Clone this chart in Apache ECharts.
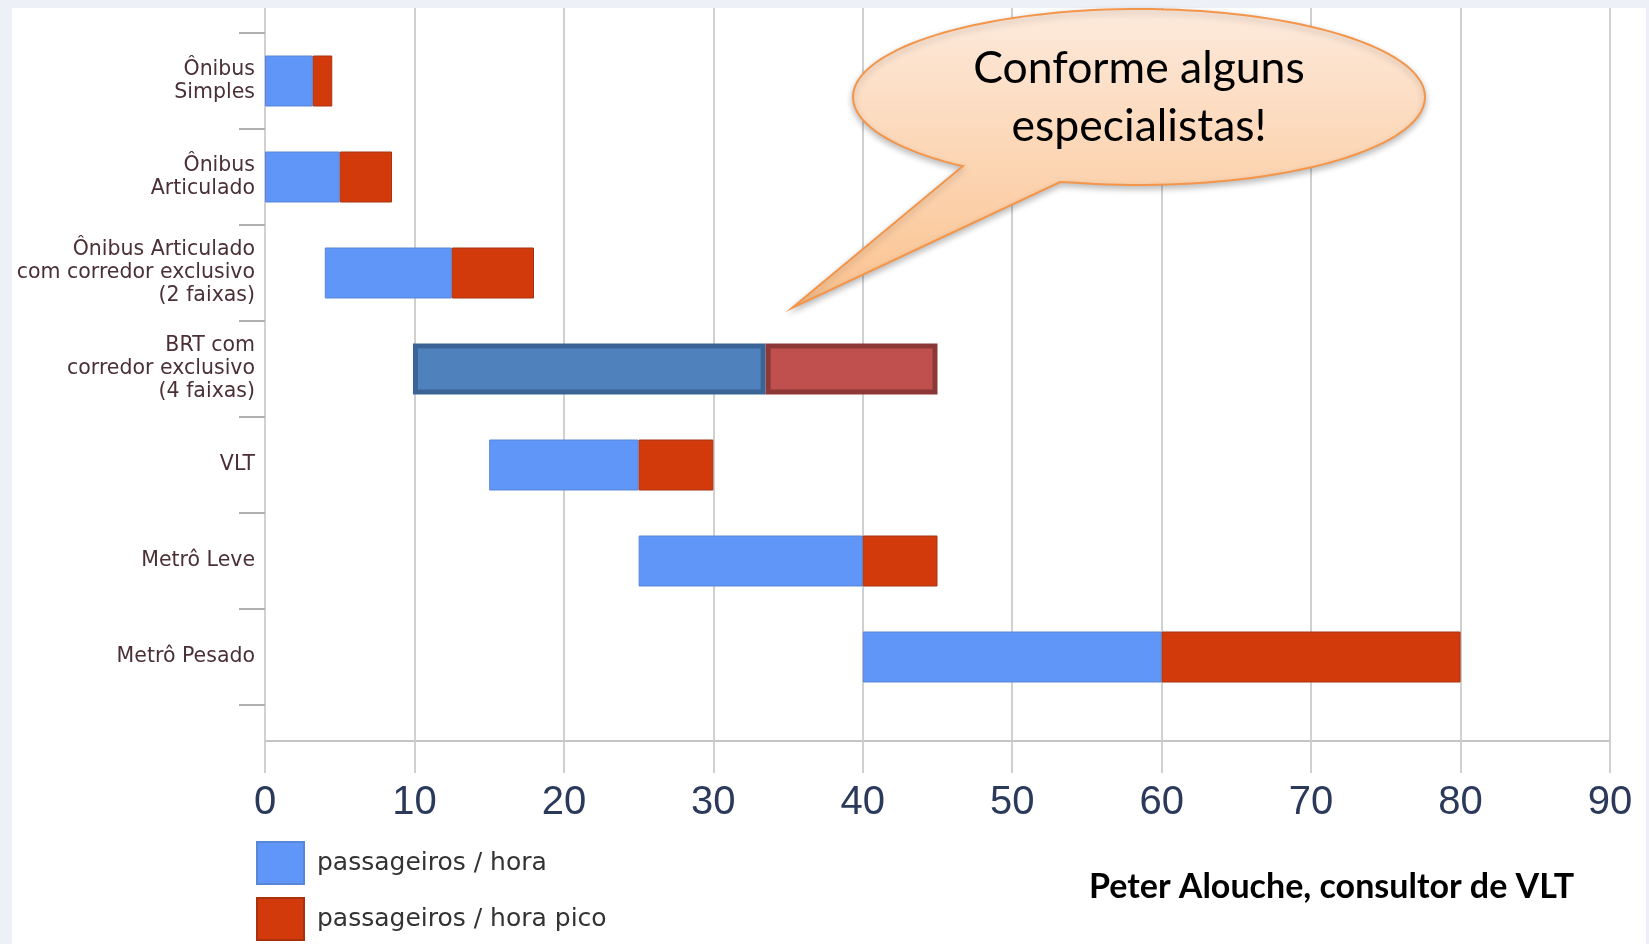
<!DOCTYPE html>
<html>
<head>
<meta charset="utf-8">
<script src="https://cdn.jsdelivr.net/npm/echarts@6/dist/echarts.min.js"></script>
<style>
  html, body { margin: 0; padding: 0; background: #edf1f7; }
  #chart { position: absolute; left: 0; top: 0; width: 1649px; height: 944px; }
</style>
</head>
<body>
<div id="chart"></div>
<script>
// 类别（从上到下）
const categories = [
    'Ônibus\nSimples',
    'Ônibus\nArticulado',
    'Ônibus Articulado\ncom corredor exclusivo\n(2 faixas)',
    'BRT com\ncorredor exclusivo\n(4 faixas)',
    'VLT',
    'Metrô Leve',
    'Metrô Pesado'
];
// 起点、passageiros/hora 终点、passageiros/hora pico 终点（mil）
const startValues = [0, 0, 4, 9.9, 15, 25, 40];
const horaEnd = [3.2, 5, 12.5, 33.5, 25, 40, 60];
const picoEnd = [4.5, 8.5, 18, 45, 30, 45, 80];
const xTicks = [0, 10, 20, 30, 40, 50, 60, 70, 80, 90];
const legendNames = ['passageiros / hora', 'passageiros / hora pico'];

const BLUE = '#5f96f7';
const RED = '#d23a0c';
const brtIndex = 3;

const chart = echarts.init(document.getElementById('chart'));

// 堆叠：透明底 + 蓝色 + 红色
const baseData = startValues.slice();
const horaData = horaEnd.map((v, i) => {
    const d = { value: v - startValues[i] };
    if (i === brtIndex) {
        d.itemStyle = { color: '#4f81bd', borderColor: '#3b6496', borderWidth: 5 };
    }
    return d;
});
const picoData = picoEnd.map((v, i) => {
    const d = { value: v - horaEnd[i] };
    if (i === brtIndex) {
        d.itemStyle = { color: '#c0504d', borderColor: '#8c3836', borderWidth: 5 };
    }
    return d;
});

// 对话气泡轮廓（椭圆 + 尖角）
function bubblePoints() {
    const cx = 1139, cy = 97, rx = 286, ry = 88;
    const a0 = Math.atan2((166 - cy) / ry, (963 - cx) / rx);
    const a1 = Math.atan2((182 - cy) / ry, (1060 - cx) / rx);
    const pts = [[963, 166], [792, 308], [1060, 182]];
    let end = a0;
    while (end > a1) end -= Math.PI * 2;
    const n = 140;
    for (let k = 1; k < n; k++) {
        const t = a1 + (end - a1) * k / n;
        pts.push([cx + rx * Math.cos(t), cy + ry * Math.sin(t)]);
    }
    return pts;
}

const option = {
    backgroundColor: 'transparent',
    animation: false,
    grid: [
        // 坐标轴与网格线
        { left: 265, right: 39, top: 8, bottom: 203, containLabel: false },
        // 条形
        { left: 265, right: 39, top: 33, bottom: 239, containLabel: false }
    ],
    legend: {
        data: legendNames,
        orient: 'vertical',
        left: 256,
        top: 841,
        padding: 0,
        itemWidth: 47,
        itemHeight: 42,
        itemGap: 12,
        icon: 'rect',
        textStyle: { fontFamily: 'DejaVu Sans', fontSize: 25, color: '#333', padding: [0, 0, 0, 8] }
    },
    xAxis: [
        {
            gridIndex: 0,
            type: 'value',
            min: 0,
            max: 90,
            interval: 10,
            axisLine: { show: true, lineStyle: { color: '#c4c4c4', width: 2 } },
            axisTick: { show: true, length: 32, lineStyle: { color: '#d0d0d0', width: 2 } },
            splitLine: { show: true, lineStyle: { color: '#d0d0d0', width: 2 } },
            axisLabel: {
                margin: 42,
                fontFamily: 'Liberation Sans',
                fontSize: 40,
                color: '#2b3a5a',
                formatter: v => (xTicks.indexOf(v) >= 0 ? String(v) : '')
            }
        },
        { gridIndex: 1, type: 'value', min: 0, max: 90, show: false }
    ],
    yAxis: [
        { gridIndex: 0, type: 'value', show: false },
        {
            gridIndex: 1,
            type: 'category',
            data: categories,
            inverse: true,
            axisLine: { show: false },
            axisTick: { show: true, length: 26, lineStyle: { color: '#b0b0b0', width: 2 } },
            axisLabel: {
                margin: 10,
                fontFamily: 'DejaVu Sans',
                fontSize: 20.5,
                lineHeight: 23,
                color: '#4a3036',
                align: 'right'
            }
        }
    ],
    series: [
        {
            name: 'base',
            type: 'bar',
            xAxisIndex: 1,
            yAxisIndex: 1,
            stack: 'total',
            barWidth: 51,
            itemStyle: { color: 'transparent' },
            data: baseData
        },
        {
            name: legendNames[0],
            type: 'bar',
            xAxisIndex: 1,
            yAxisIndex: 1,
            stack: 'total',
            barWidth: 51,
            itemStyle: { color: BLUE, borderColor: '#5a86d8', borderWidth: 1 },
            data: horaData
        },
        {
            name: legendNames[1],
            type: 'bar',
            xAxisIndex: 1,
            yAxisIndex: 1,
            stack: 'total',
            barWidth: 51,
            itemStyle: { color: RED, borderColor: '#a8320e', borderWidth: 1 },
            data: picoData
        }
    ],
    graphic: [
        {
            type: 'rect',
            z: -10,
            silent: true,
            shape: { x: 12, y: 8, width: 1634, height: 936 },
            style: { fill: '#ffffff' }
        },
        {
            // 对话气泡
            type: 'polygon',
            z: 100,
            shape: { points: bubblePoints() },
            style: {
                fill: {
                    type: 'linear', x: 0, y: 0, x2: 0, y2: 1,
                    colorStops: [
                        { offset: 0, color: '#fdeadc' },
                        { offset: 1, color: '#fbc28e' }
                    ]
                },
                stroke: '#f3964c',
                lineWidth: 2,
                shadowBlur: 6,
                shadowOffsetY: 3,
                shadowColor: 'rgba(0,0,0,0.25)'
            }
        },
        {
            type: 'text',
            z: 101,
            x: 1139,
            y: 40,
            style: {
                text: 'Conforme alguns\nespecialistas!',
                align: 'center',
                fontFamily: 'Lato',
                fontSize: 44.5,
                lineHeight: 58,
                fill: '#000'
            }
        },
        {
            type: 'text',
            z: 101,
            x: 1089,
            y: 887,
            style: {
                text: 'Peter Alouche, consultor de VLT',
                fontFamily: 'Lato',
                fontWeight: 'bold',
                fontSize: 34,
                verticalAlign: 'middle',
                fill: '#000'
            }
        }
    ]
};

chart.setOption(option);
window.addEventListener('resize', function() {
    chart.resize();
});
</script>
</body>
</html>
